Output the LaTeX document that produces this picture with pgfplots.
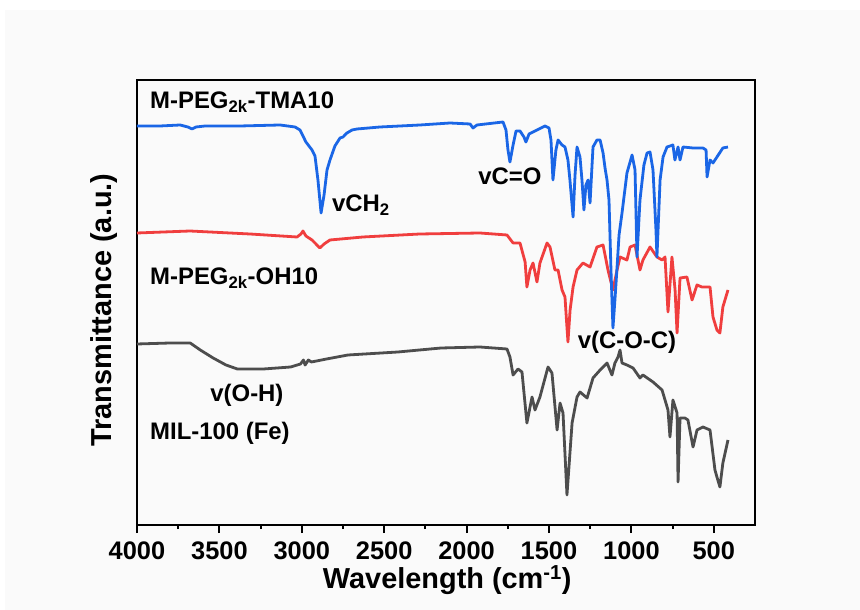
\documentclass[border=0pt]{standalone}
\usepackage{pgfplots}
\pgfplotsset{compat=1.18}
\usepackage{fontspec}
\setmainfont{Liberation Sans}
\definecolor{bgc}{RGB}{250,250,250}
\definecolor{cblue}{RGB}{26,102,230}
\definecolor{cred}{RGB}{240,62,62}
\definecolor{cgray}{RGB}{77,77,77}
\begin{document}
\begin{tikzpicture}[x=1bp,y=1bp]
\fill[white] (0,0) rectangle (860,610);
\fill[bgc] (5,0) rectangle (860,600);
\begin{axis}[
  at={(137bp,85bp)}, anchor=south west,
  scale only axis, width=618bp, height=445bp,
  xmin=250, xmax=4000, x dir=reverse,
  ymin=80, ymax=525, y dir=reverse,
  axis line style={line width=2.4bp},
  xtick={500,1000,1500,2000,2500,3000,3500,4000},
  minor x tick num=1,
  ytick=\empty,
  tick pos=left,
  tick align=outside,
  major tick length=8bp, minor tick length=4bp,
  every tick/.style={line width=2bp, black},
  /pgf/number format/assume math mode=true,
  /pgf/number format/1000 sep={},
  xticklabel style={font=\bfseries\fontsize{25.5}{25.5}\selectfont, anchor=center, yshift=-18bp},
  xlabel={Wavelength (cm\textsuperscript{-1})},
  ylabel={Transmittance (a.u.)},
  label style={font=\bfseries\fontsize{29}{29}\selectfont},
  xlabel style={at={(axis description cs:0.502,-0.124)}, anchor=center},
  ylabel style={at={(axis description cs:-0.053,0.483)}, anchor=center},
  clip=false,
  every axis plot/.style={line width=2.8bp, line join=round, mark=none},
]
\addplot[cgray] coordinates {
(4000,344)(3800,343)(3677,343)(3616,350)(3538,358)(3460,365)(3391,369)(3233,369)(3068,367)(3008,364)(2990,360)(2980,365)(2960,360)(2942,362)(2850,359)(2720,355)(2417,352)(2155,348)(1919,347)(1755,349)(1737,357)(1718,375)(1688,369)(1664,372)(1634,423)(1603,397)(1585,410)(1555,397)(1506,367)(1482,373)(1451,430)(1433,403)(1415,413)(1391,495)(1360,423)(1330,397)(1312,392)(1269,398)(1233,378)(1190,370)(1148,363)(1118,375)(1100,363)(1081,357)(1069,350)(1057,363)(1027,365)(990,368)(948,378)(930,375)(869,382)(814,390)(778,410)(766,437)(748,400)(723,413)(717,482)(705,418)(675,418)(657,420)(626,447)(602,430)(566,427)(523,430)(493,470)(481,477)(463,487)(445,463)(414,440)
};
\addplot[cred] coordinates {
(4000,233)(3678,231)(3314,234)(3029,237)(3005,234)(2993,231)(2975,236)(2938,240)(2908,245)(2890,248)(2865,244)(2829,240)(2629,237)(2283,234)(1919,233)(1755,235)(1718,243)(1676,243)(1645,262)(1634,287)(1615,270)(1597,263)(1573,282)(1555,263)(1512,243)(1494,247)(1464,270)(1445,270)(1421,290)(1403,297)(1394,320)(1385,342)(1372,310)(1354,287)(1330,270)(1294,263)(1251,267)(1209,247)(1172,245)(1142,270)(1112,290)(1087,270)(1069,257)(1027,260)(1008,247)(978,245)(948,270)(930,260)(887,247)(845,257)(814,260)(796,257)(778,312)(754,257)(735,290)(723,333)(705,278)(663,277)(632,300)(602,285)(572,287)(523,287)(505,317)(481,330)(463,333)(445,307)(414,290)
};
\addplot[cblue] coordinates {
(4000,126)(3860,126)(3739,125)(3691,127)(3666,129)(3642,127)(3587,126)(3375,126)(3132,125)(3041,127)(3011,130)(2975,142)(2938,150)(2920,156)(2902,180)(2883,213)(2865,195)(2847,170)(2829,160)(2799,146)(2768,138)(2750,137)(2726,133)(2695,130)(2665,129)(2525,127)(2283,125)(2101,123)(1979,124)(1961,128)(1937,125)(1779,122)(1761,130)(1749,150)(1737,162)(1718,145)(1700,131)(1676,131)(1652,137)(1640,142)(1621,134)(1585,131)(1524,126)(1500,128)(1488,140)(1476,180)(1458,150)(1445,140)(1421,145)(1403,147)(1385,160)(1373,180)(1354,217)(1342,175)(1330,147)(1312,157)(1300,180)(1288,210)(1276,185)(1263,180)(1251,203)(1233,147)(1209,140)(1190,140)(1172,153)(1160,168)(1148,180)(1136,200)(1124,270)(1112,328)(1100,300)(1087,267)(1075,235)(1057,213)(1027,173)(996,155)(978,170)(966,257)(948,200)(924,165)(905,153)(887,152)(869,170)(851,230)(845,257)(826,180)(808,157)(784,147)(748,145)(736,160)(717,147)(705,160)(687,147)(626,148)(566,148)(547,150)(541,177)(523,160)(505,163)(481,157)(445,148)(414,147)
};
\begin{scope}[every node/.style={font=\bfseries\fontsize{24}{24}\selectfont, inner sep=0pt}]
\node[anchor=west] at (axis cs:3921,102) {M-PEG\textsubscript{2k}-TMA10};
\node[anchor=west] at (axis cs:2817,205) {vCH\textsubscript{2}};
\node[anchor=center] at (axis cs:1737,176) {vC=O};
\node[anchor=west] at (axis cs:3921,278) {M-PEG\textsubscript{2k}-OH10};
\node[anchor=center] at (axis cs:1027,342) {v(C-O-C)};
\node[anchor=center] at (axis cs:3333,395) {v(O-H)};
\node[anchor=west] at (axis cs:3921,433) {MIL-100 (Fe)};
\end{scope}
\end{axis}
\end{tikzpicture}
\end{document}
